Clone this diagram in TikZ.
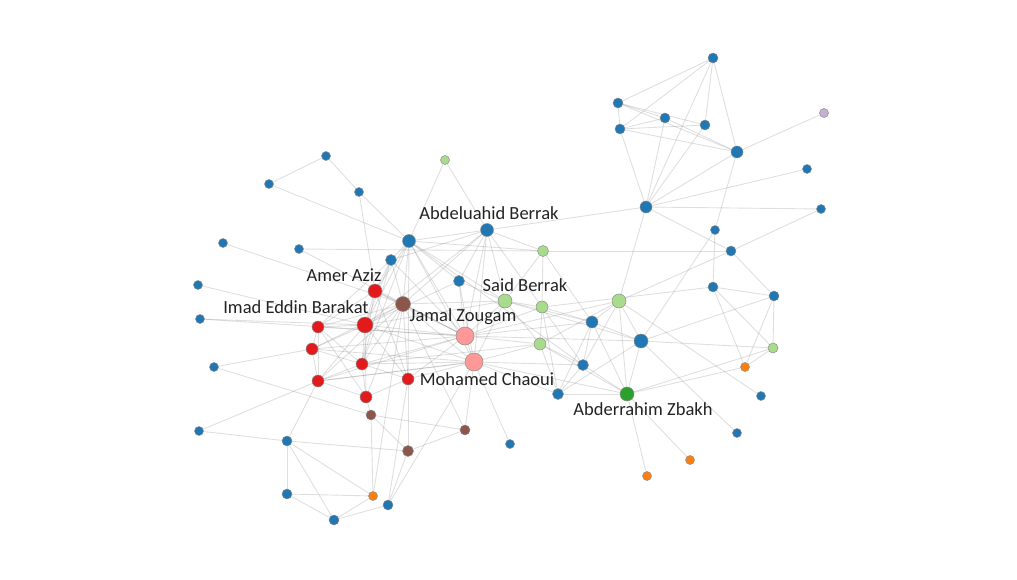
\documentclass[tikz,border=0pt]{standalone}
\usepackage{fontspec}
\setmainfont{Carlito}
\usetikzlibrary{backgrounds}
\definecolor{cblue}{HTML}{1F77B4}
\definecolor{clgreen}{HTML}{A8DC8C}
\definecolor{cred}{HTML}{E31A1C}
\definecolor{cpink}{HTML}{FF9896}
\definecolor{cbrown}{HTML}{8C564B}
\definecolor{corange}{HTML}{FF7F0E}
\definecolor{cgreen}{HTML}{2CA02C}
\definecolor{cpurple}{HTML}{C5B0D5}
\definecolor{ctext}{HTML}{222222}
\tikzset{
  v/.style={circle, fill=#1, draw=black!45, line width=0.5pt, inner sep=0pt, minimum size=10pt},
  sz/.style={minimum size=#1},
  edge/.style={draw=gray, opacity=0.25, line width=0.9pt},
  lab/.style={text=ctext, font=\fontsize{18.5}{22}\selectfont, inner sep=0pt},
}
\begin{document}
\begin{tikzpicture}[x=1pt,y=-1pt]
\useasboundingbox (0,0) rectangle (1017,580);
% blue nodes
\node[v=cblue] (b1) at (713,58) {};
\node[v=cblue] (b2) at (618,103) {};
\node[v=cblue] (b3) at (665,118) {};
\node[v=cblue] (b4) at (705,125) {};
\node[v=cblue] (b5) at (620,129) {};
\node[v=cblue, sz=12pt] (b6) at (737,152) {};
\node[v=cblue, sz=9pt] (b7) at (807,169) {};
\node[v=cblue, sz=12pt] (b8) at (646,207) {};
\node[v=cblue, sz=9pt] (b9) at (821,209) {};
\node[v=cblue, sz=9pt] (b10) at (715,230) {};
\node[v=cblue] (b11) at (731,251) {};
\node[v=cblue] (b12) at (713,287) {};
\node[v=cblue] (b13) at (774,296) {};
\node[v=cblue, sz=14pt] (b14) at (641,341) {};
\node[v=cblue, sz=12pt] (b15) at (592,322) {};
\node[v=cblue, sz=11pt] (b16) at (583,365) {};
\node[v=cblue, sz=11pt] (b17) at (558,394) {};
\node[v=cblue, sz=9pt] (b18) at (761,396) {};
\node[v=cblue, sz=9pt] (b19) at (737,433) {};
\node[v=cblue, sz=9pt] (b20) at (510,444) {};
\node[v=cblue, sz=11pt] (b21) at (459,281) {};
\node[v=cblue, sz=13pt] (b22) at (487,230) {};
\node[v=cblue, sz=13pt] (b23) at (409,241) {};
\node[v=cblue, sz=11pt] (b24) at (391,260) {};
\node[v=cblue, sz=9pt] (b25) at (359,192) {};
\node[v=cblue, sz=9pt] (b26) at (326,156) {};
\node[v=cblue, sz=9pt] (b27) at (269,184) {};
\node[v=cblue, sz=9pt] (b28) at (299,249) {};
\node[v=cblue, sz=9pt] (b29) at (223,243) {};
\node[v=cblue, sz=9pt] (b30) at (198,285) {};
\node[v=cblue, sz=9pt] (b31) at (200,319) {};
\node[v=cblue, sz=9pt] (b32) at (214,367) {};
\node[v=cblue, sz=9pt] (b33) at (199,431) {};
\node[v=cblue, sz=10pt] (b34) at (287,441) {};
\node[v=cblue, sz=10pt] (b35) at (287,494) {};
\node[v=cblue, sz=10pt] (b36) at (334,520) {};
\node[v=cblue, sz=10pt] (b37) at (388,505) {};
% light green
\node[v=clgreen, sz=9pt] (g1) at (445,160) {};
\node[v=clgreen, sz=11pt] (g2) at (543,251) {};
\node[v=clgreen, sz=14pt] (g3) at (505,301) {};
\node[v=clgreen, sz=12pt] (g4) at (542,307) {};
\node[v=clgreen, sz=14pt] (g5) at (619,301) {};
\node[v=clgreen, sz=12pt] (g6) at (540,344) {};
\node[v=clgreen, sz=10pt] (g7) at (773,348) {};
% red
\node[v=cred, sz=14pt] (r1) at (375,291) {};
\node[v=cred, sz=16pt] (r2) at (365,325) {};
\node[v=cred, sz=12pt] (r3) at (318,327) {};
\node[v=cred, sz=12pt] (r4) at (312,349) {};
\node[v=cred, sz=12pt] (r5) at (362,364) {};
\node[v=cred, sz=12pt] (r6) at (318,381) {};
\node[v=cred, sz=12pt] (r7) at (366,397) {};
\node[v=cred, sz=12pt] (r8) at (408,379) {};
% pink
\node[v=cpink, sz=18pt] (p1) at (465,336) {};
\node[v=cpink, sz=18pt] (p2) at (474,362) {};
% brown
\node[v=cbrown, sz=15pt] (br1) at (403,304) {};
\node[v=cbrown, sz=10pt] (br2) at (371,415) {};
\node[v=cbrown, sz=10pt] (br3) at (465,430) {};
\node[v=cbrown, sz=11pt] (br4) at (408,451) {};
% orange
\node[v=corange, sz=9pt] (o1) at (745,367) {};
\node[v=corange, sz=9pt] (o2) at (690,460) {};
\node[v=corange, sz=9pt] (o3) at (647,476) {};
\node[v=corange, sz=9pt] (o4) at (373,496) {};
% green, purple
\node[v=cgreen, sz=14pt] (z) at (627,394) {};
\node[v=cpurple, sz=9pt] (pu) at (824,113) {};
% labels
\node[lab] (l1) at (489,213) {Abdeluahid Berrak};
\node[lab] (l2) at (344,275) {Amer Aziz};
\node[lab] (l3) at (296,307) {Imad Eddin Barakat};
\node[lab] (l4) at (525,285) {Said Berrak};
\node[lab] (l5) at (463,317) {Jamal Zougam};
\node[lab] (l6) at (487,379) {Mohamed Chaoui};
\node[lab] (l7) at (643,409) {Abderrahim Zbakh};
\begin{pgfonlayer}{background}
\foreach \a/\b in {
 b1/b2,b1/b5,b1/b8,b1/b4,b1/b6,b2/b3,b2/b4,b2/b6,b2/b5,b5/b3,b5/b4,b5/b6,b3/b8,b4/b8,b5/b8,b3/b6,
 b6/pu,b6/b8,b6/b10,b8/b7,b8/b9,b22/b8,b8/g5,b8/b11,b9/b11,b10/b12,b10/b14,g2/b11,g5/b11,b11/b13,
 b12/b13,b12/o1,b12/g7,b13/g7,b13/o1,b13/b14,g7/o1,g7/b14,g7/z,g5/b14,g5/z,g5/b18,b14/b19,
 z/o3,z/o2,z/b14,z/o1,b15/b14,b15/g5,
 b26/b27,b26/b25,b27/b23,b25/b23,b25/r1,g1/b23,g1/b22,b29/br1,b28/g2,b28/p1,b30/r2,b31/r2,b31/p1,
 b32/r4,b32/br2,b33/r6,b33/b34,b34/r6,b34/b35,b34/b36,b34/br4,b34/o4,b35/o4,b35/b36,b36/b37,b36/o4,
 br2/o4,br2/r7,br2/br4,br2/br3,br4/br3,br3/p2,b20/p2,
 b23/b22,b23/b24,b23/b21,b23/p1,b23/p2,b23/r2,b23/r1,b23/br1,b23/g3,b23/r5,b23/g2,b23/r8,b23/b16,
 b22/g2,b22/b21,b22/g3,b22/p1,b22/br1,b22/r2,b22/g4,b22/b24,b22/p2,
 b24/r1,b24/r2,b24/p1,b24/br1,b24/r5,b24/r3,
 b21/p1,b21/p2,b21/g3,b21/r2,
 g2/g4,g2/g3,g2/b15,
 g3/g4,g3/p1,g3/p2,g3/b15,g3/g6,g3/r2,g3/br1,g3/b14,
 g4/b15,g4/g6,g4/b16,g4/p1,g4/b12,g4/b17,
 g6/p1,g6/p2,g6/b16,g6/b17,g6/z,g6/g5,g6/r5,
 b15/b17,b15/z,b15/p1,b15/b16,
 b16/z,b16/g5,b16/p2,b16/b17,
 b17/z,b17/p2,b17/b14,b14/p1,g5/p1,
 p1/p2,p1/r2,p1/r1,p1/r3,p1/r4,p1/r5,p1/r6,p1/r8,p1/br1,
 p2/r2,p2/r5,p2/r8,p2/r4,p2/r6,p2/br1,p2/b37,p2/z,
 r1/r2,r1/br1,r1/r5,r1/r3,r1/r8,
 r2/r3,r2/r4,r2/r5,r2/r6,r2/r7,r2/r8,r2/br1,
 r3/r4,r3/r6,r3/r5,r3/br1,r3/r7,
 r4/r6,r4/r5,r4/br1,
 r5/r6,r5/r7,r5/r8,r5/br1,
 r6/r7,r6/br1,r6/p2,
 r7/r8,r7/br1,r8/br1,r8/br4,r8/b37,
 br1/o4,br1/br3,br4/b37}
 \draw[edge] (\a) -- (\b);
\end{pgfonlayer}
\end{tikzpicture}
\end{document}
